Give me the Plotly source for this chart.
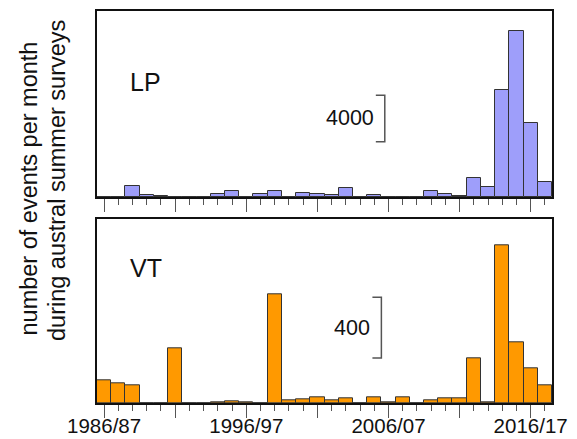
import plotly.graph_objects as go

years = list(range(1986, 2018))
lp_events = [0, 40, 970, 170, 115, 0, 55, 0, 257, 571, 0, 257, 514, 0, 343, 314,
             229, 771, 0, 170, 55, 0, 0, 543, 270, 125, 1628, 912, 9257, 14257, 6343, 1314]
vt_events = [150, 132, 117, 0, 0, 363, 0, 0, 5, 8, 4, 0, 715, 15, 22, 37,
             18, 29, 0, 37, 4, 40, 0, 20, 29, 29, 297, 4, 1036, 400, 227, 117]
major_ticks = [1986, 1991, 1996, 2001, 2006, 2011, 2016]
major_labels = ["1986/87", "", "1996/97", "", "2006/07", "", "2016/17"]
panel_names = ["LP", "VT"]
scale_lengths = [4000, 400]
y_title = ["number of events per month", "during austral summer surveys"]

FONT = "Liberation Sans, Arial, sans-serif"
W, H = 577, 439
ML, MR, MT, MB = 97, 25, 11, 36
PW, PH = W - ML - MR, H - MT - MB

fig = go.Figure()
fig.add_trace(go.Bar(x=years, y=lp_events, width=1, xaxis="x", yaxis="y",
                     marker=dict(color="rgb(158,158,250)", line=dict(color="#333333", width=1)),
                     showlegend=False))
fig.add_trace(go.Bar(x=years, y=vt_events, width=1, xaxis="x2", yaxis="y2",
                     marker=dict(color="rgb(255,153,0)", line=dict(color="#333333", width=1)),
                     showlegend=False))

top_dom = [(H - MB - 197.3) / PH, 1.0]
bot_dom = [0.0, (H - MB - 219.3) / PH]

xcommon = dict(range=[1985.5, 2017.5], showgrid=False, zeroline=False,
               showline=True, linecolor="#111111", linewidth=1.5, mirror=True,
               ticks="outside", tickvals=major_ticks, ticklen=13, tickwidth=1,
               tickcolor="#555555", automargin=False,
               minor=dict(ticks="outside", dtick=1, tick0=1986, ticklen=6,
                          tickwidth=1, tickcolor="#555555", showgrid=False),
               fixedrange=True)
ycommon = dict(showgrid=False, zeroline=False, showticklabels=False, ticks="",
               showline=True, linecolor="#111111", linewidth=1.5, mirror=True,
               automargin=False, fixedrange=True)

fig.update_layout(
    width=W, height=H,
    margin=dict(l=ML, r=MR, t=MT, b=MB, pad=0),
    paper_bgcolor="white", plot_bgcolor="white",
    font=dict(family=FONT, color="#111111"),
    bargap=0,
    xaxis=dict(domain=[0, 1], anchor="y", showticklabels=False, **xcommon),
    yaxis=dict(domain=top_dom, anchor="x", range=[0, 16000], **ycommon),
    xaxis2=dict(domain=[0, 1], anchor="y2", showticklabels=True, ticktext=major_labels,
                ticklabelstandoff=-9,
                tickfont=dict(size=20.5, family=FONT, color="#111111"), **xcommon),
    yaxis2=dict(domain=bot_dom, anchor="x2", range=[0, 1210], **ycommon),
)

# panel labels
fig.add_annotation(text=panel_names[0], xref="x domain", yref="y domain", x=0.107, y=0.62,
                   showarrow=False, xanchor="center", yanchor="middle",
                   font=dict(size=25, family=FONT, color="#111111"))
fig.add_annotation(text=panel_names[1], xref="x2 domain", yref="y2 domain", x=0.107, y=0.737,
                   showarrow=False, xanchor="center", yanchor="middle",
                   font=dict(size=25, family=FONT, color="#111111"))

# scale brackets
def bracket(xref, yref, x, arm, y0, length, label):
    path = f"M {x-arm},{y0} L {x},{y0} L {x},{y0+length} L {x-arm},{y0+length}"
    fig.add_shape(type="path", path=path, xref=xref, yref=yref,
                  line=dict(color="#555555", width=1.5))
    fig.add_annotation(text=label, xref=xref, yref=yref, x=x - arm - 0.02, y=y0 + length / 2,
                       showarrow=False, xanchor="right", yanchor="middle",
                       font=dict(size=21.5, family=FONT, color="#111111"))

bracket("x", "y", 2005.74, 0.63, 4770, scale_lengths[0], str(scale_lengths[0]))
bracket("x2", "y2", 2005.5, 0.63, 297, scale_lengths[1], str(scale_lengths[1]))

# y title (two lines)
for txt, xc, yc in [(y_title[0], 29, 188.5), (y_title[1], 57, 181)]:
    fig.add_annotation(text=txt, xref="paper", yref="paper",
                       x=(xc - ML) / PW, y=(H - MB - yc) / PH,
                       showarrow=False, textangle=-90, xanchor="center", yanchor="middle",
                       font=dict(size=23.5, family=FONT, color="#111111"))

fig.write_html("out.html")
